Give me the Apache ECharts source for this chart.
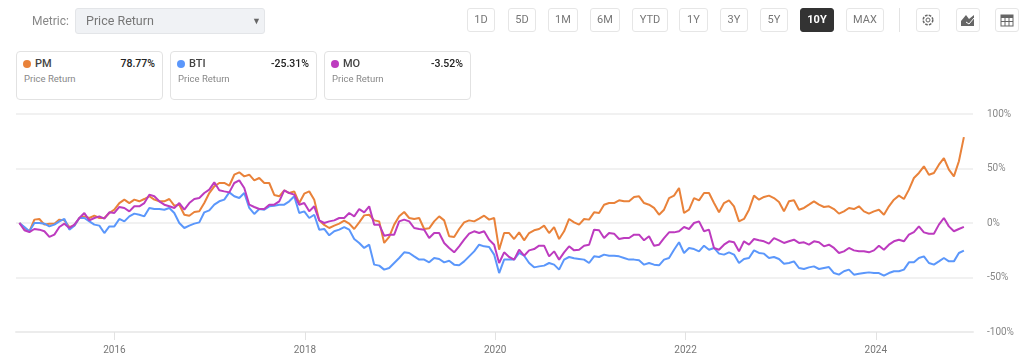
<!DOCTYPE html>
<html><head><meta charset="utf-8">
<script src="https://cdn.jsdelivr.net/npm/echarts@6/dist/echarts.min.js"></script>
<style>
html,body{margin:0;padding:0;background:#fff;width:1024px;height:364px;overflow:hidden;font-family:Roboto,"Liberation Sans",Arial,sans-serif}
#chart{position:absolute;left:0;top:0;width:1024px;height:364px}
.ui{position:absolute;box-sizing:border-box}
.btn{top:8px;height:24px;border:1px solid #e6e6e6;border-radius:3px;color:#777;font-size:11px;line-height:22px;text-align:center;background:#fff}
.btn.on{background:#333;border-color:#333;color:#fff;font-weight:700}
.card{top:51px;width:147px;height:49px;border:1px solid #e2e2e2;border-radius:4px;background:#fff}
.card .dot{position:absolute;left:6px;top:8px;width:8px;height:8px;border-radius:50%}
.card .nm{position:absolute;left:18px;top:4px;font-size:11px;line-height:15px;color:#444;font-weight:500}
.card .val{position:absolute;right:7px;top:4px;font-size:10.5px;line-height:15px;color:#222;font-weight:500}
.card .sub{position:absolute;left:7px;top:20px;font-size:9.5px;line-height:13px;color:#888}
</style></head><body>
<div id="chart"></div>
<div id="ui"></div>
<script>
const tickers = ['PM','BTI','MO'];
const metricName = 'Price Return';
const finals = ['78.77%','-25.31%','-3.52%'];
const colors = ['#e9823a','#5b97fb','#bd3bbf'];
const rangeButtons = ['1D','5D','1M','6M','YTD','1Y','3Y','5Y','10Y','MAX'];
const yearTicks = ['2016','2018','2020','2022','2024'];
const pctTicks = [-100,-50,0,50,100];

const pm = [
0,-4.6,-7.6,3.1,3.7,-1.5,-.6,-.6,3.1,2.4,-3.7,-2.4,4.6,6.1,4.6,6.7,4.6,4.6,9.2,12.2,18.3,21.4,18.3,21.4,19.9,22,24.5,21.4,19.9,19.9,22,15.9,16.8,7.6,6.7,10.1,10.7,18.3,27.5,33.6,36.7,36.7,34.2,44.3,46.5,42.8,44.3,39.1,41.3,
36.7,36.7,25.7,24.5,30,27.5,29,18.3,26.9,29,21.4,2.4,-1.8,-4.6,-2.4,-.6,2.1,-.6,-5.5,.6,7,7.6,2.4,1.5,-18.3,-12.8,-1.5,6.1,10.1,4.6,3.7,4.6,-5.5,-4.9,1.5,6.1,2.4,-12.2,-12.8,-5.5,.6,2.4,1.5,4,6.7,3.1,4.6,-24.5,-9.2,-9.2,-14.7,-8.6,
-15.9,-9.2,-6.7,-5.5,-2.4,-9.2,-3.7,-14.7,-7.6,3.7,.6,-1.5,3.7,3.1,9.8,9.2,16.8,18.3,18.3,20.8,19.9,19.9,23.9,24.5,18.3,16.8,13.8,7.6,12.2,22.9,25.1,32.1,9.2,12.2,22.9,20.8,27.5,27.5,18.3,9.8,18.3,20.8,15.3,1.5,3.7,12.2,25.1,21.4,23.9,25.1,22.9,19.3,
10.7,19.9,20.8,12.2,13.8,16.8,19.9,16.8,14.7,15.3,12.8,8.6,10.7,13.8,12.8,15.3,10.7,8.6,10.7,12.2,7.6,15.3,21.4,25.1,22,30.6,41.3,45.9,52,44.3,45.9,53.5,59.6,48.9,42.8,56.6,78.77];
const bti = [
0,-3.7,-7.6,0,0,-.6,-3.1,-1.5,1.5,3.7,-6.1,-2.4,4.6,4.6,1.5,-1.5,-2.4,-9.2,-3.1,-3.1,3.7,1.5,6.1,8.6,7.6,6.1,13.8,12.8,12.8,12.2,13.8,9.2,0,-4.6,-2.4,-.6,.6,9.8,11.6,16.8,19.9,21.4,28.1,24.5,22.9,27.5,13.8,8.3,12.8,
12.2,15.3,15.9,16.8,16.8,19.9,24.5,9.2,10.7,4.6,7.6,-6.1,-5.5,-11.3,-7.6,-6.1,-3.7,-6.1,-14.7,-18.3,-22.9,-19.9,-38.2,-39.1,-42.8,-41.3,-36.7,-32.1,-26.9,-27.5,-30.6,-33.6,-33.6,-36.1,-32.1,-33,-36.1,-34.6,-38.2,-38.8,-35.2,-30.6,-26,-19.9,-21.4,-22,-29,-45.9,-33.6,-33.6,-33.6,-27.5,
-30,-36.7,-40.7,-39.8,-39.1,-36.7,-38.2,-42.8,-33.6,-31.2,-32.4,-33,-33.6,-36.7,-30.6,-31.2,-29,-30,-30,-30.6,-32.1,-33.6,-33.6,-34.2,-38.2,-36.7,-38.2,-38.8,-33.6,-32.1,-24.5,-17.7,-27.5,-22.9,-23.9,-26,-20.8,-24.5,-22.9,-28.1,-29,-26.9,-29,-36.7,-33,-32.1,-25.1,-27.5,-28.1,-32.1,-31.2,-33,
-37.3,-36.7,-35.2,-41.3,-42.2,-40.7,-39.8,-42.2,-41.3,-40.4,-45.9,-47.4,-44.3,-42.8,-47.4,-46.5,-45.9,-45.3,-45.9,-45.9,-48.3,-45.9,-44.3,-44.3,-42.8,-36.1,-36.1,-32.1,-30.6,-36.7,-38.2,-35.2,-32.1,-35.2,-35.2,-27.5,-25.31];
const mo = [
0,-6.7,-8.3,-5.5,-6.1,-7.6,-12.8,-10.7,-3.7,-.6,-4.6,-1.5,4.6,9.2,2.4,4.6,6.1,4,9.8,9.2,14.7,13.8,10.7,15.3,15.3,18.3,26,24.5,19.9,16.8,15.3,13.8,18.3,12.2,18.3,22,22.9,27.5,30.6,37.3,30,29,28.1,36.7,39.1,32.1,16.8,14.7,12.8,
12.8,16.8,16.8,19.9,30,27.5,26,16.8,18.3,10.7,15.3,2.4,0,1.5,2.4,4.6,4.6,9.2,6.1,12.8,9.8,15.3,-1.5,-1.5,-11.6,-10.7,-10.7,1.5,3.1,1.5,-4.6,-5.5,-6.1,-13.8,-9.2,-9.2,-18.3,-22.9,-26.9,-21.4,-15.3,-9.8,-7.6,-9.2,-7.6,-15.3,-19.9,-36.7,-26.9,-31.2,-33.6,-24.5,
-30,-25.1,-23.9,-20.8,-20.8,-30.6,-26,-33.6,-26.9,-21.4,-25.1,-24.5,-20.8,-19.9,-6.1,-6.7,-13.8,-9.2,-9.8,-14.7,-13.8,-13.8,-10.7,-10.7,-15.9,-12.2,-20.8,-19.9,-13.8,-8.6,-8.6,-7.6,-3.7,-5.5,0,1.5,-7.6,-6.1,-22.9,-24.5,-19.9,-16.8,-17.7,-26,-16.8,-19.9,-14.7,-15.9,-16.8,-19,-13.8,-15.9,
-18.3,-16.8,-15.3,-18.3,-17.7,-19.9,-16.8,-17.7,-21.4,-19.9,-22.9,-27.5,-26,-22.9,-25.1,-26,-26,-26.9,-25.1,-20.8,-24.5,-19.9,-16.8,-15.3,-16.8,-10.7,-8.3,-3.1,-8.6,-9.8,-9.8,-1.5,4.6,-3.1,-7.6,-5.5,-3.52];

// sampling dates of the three series: an even calendar grid from Jan 2015
const startDate = Date.UTC(2015,0,1);
const sampleDays = 19.18;
const dates = pm.map((_, i) => startDate + i * sampleDays * 864e5);
const pairs = vals => vals.map((v, i) => [dates[i], v]);

const chart = echarts.init(document.getElementById('chart'), null, {renderer:'canvas'});
const tickTimes = yearTicks.map(y => Date.UTC(+y,0,1));
chart.setOption({
  animation:false,
  grid:{left:16,right:51,top:114,bottom:32},
  xAxis:{type:'value',min:Date.UTC(2014,11,19),max:Date.UTC(2025,0,8),scale:true,
    axisLine:{show:true,onZero:false,lineStyle:{color:'#ececec',width:2}},
    axisTick:{show:true,length:8,customValues:tickTimes,lineStyle:{color:'#e2e2e2'}},
    axisLabel:{show:true,customValues:tickTimes,margin:13,color:'#777',fontSize:10,fontFamily:'Roboto',hideOverlap:false,
      formatter:v=>String(new Date(v).getUTCFullYear())},
    splitLine:{show:false}},
  yAxis:{type:'value',position:'right',min:-100,max:100,interval:50,
    axisLine:{show:false},axisTick:{show:false},
    axisLabel:{margin:14,color:'#888',fontSize:10,fontFamily:'Roboto',padding:[3,0,0,0],formatter:v=>v+'%'},
    splitLine:{lineStyle:{color:'#ececec',width:1.6}}},
  series:[pm,bti,mo].map((vals,i)=>({name:tickers[i],type:'line',data:pairs(vals),showSymbol:false,symbol:'none',
    smooth:false,lineStyle:{color:colors[i],width:2},itemStyle:{color:colors[i]}}))
});

// page controls around the chart
const ui = document.getElementById('ui');
const add = (cls, css, html) => { const d=document.createElement('div'); d.className='ui '+cls; d.style.cssText=css; d.innerHTML=html||''; ui.appendChild(d); return d; };
add('', 'left:32px;top:13px;font-size:12px;line-height:16px;color:#888', 'Metric:');
add('', 'left:75px;top:8px;width:190px;height:26px;background:#f0f2f5;border:1px solid #e3e5e8;border-radius:3px;color:#777;font-size:12.5px;line-height:24px;padding-left:10px', metricName);
add('', 'left:252px;top:15px;font-size:9px;line-height:12px;color:#666', '▼');
const btnX = [[467,28],[508,28],[548,30],[590,30],[632,36],[679,29],[720,28],[760,28],[800,34],[846,38]];
rangeButtons.forEach((b,i)=>add('btn'+(b==='10Y'?' on':''), `left:${btnX[i][0]}px;width:${btnX[i][1]}px`, b));
add('', 'left:899px;top:8px;width:1px;height:24px;background:#e3e3e3');
const gear = '<svg width="22" height="22" viewBox="0 0 22 22" style="display:block"><circle cx="11" cy="11" r="2" fill="none" stroke="#666"/><circle cx="11" cy="11" r="4.8" fill="none" stroke="#666" stroke-dasharray="2.6 1.2" stroke-width="1.5"/></svg>';
const area = '<svg width="22" height="22" viewBox="0 0 22 22" style="display:block"><path d="M4 17V12L9 6L12 10L17 6V17Z" fill="#666"/><path d="M9 13L12 15L17 9" fill="none" stroke="#fff"/></svg>';
const table = '<svg width="22" height="22" viewBox="0 0 22 22" style="display:block"><rect x="5" y="6" width="12" height="11" fill="#fff" stroke="#666"/><rect x="5" y="6" width="12" height="3" fill="#666"/><path d="M5 12.5H17M9 9V17M13 9V17" stroke="#666"/></svg>';
[[916,gear],[956,area],[995,table]].forEach(([x,s])=>add('btn', `left:${x}px;width:24px`, s));
const cardX = [16,170,324];
tickers.forEach((t,i)=>add('card', `left:${cardX[i]}px`,
  `<span class="dot" style="background:${colors[i]}"></span><span class="nm">${t}</span><span class="val">${finals[i]}</span><span class="sub">${metricName}</span>`));
</script>
</body></html>
